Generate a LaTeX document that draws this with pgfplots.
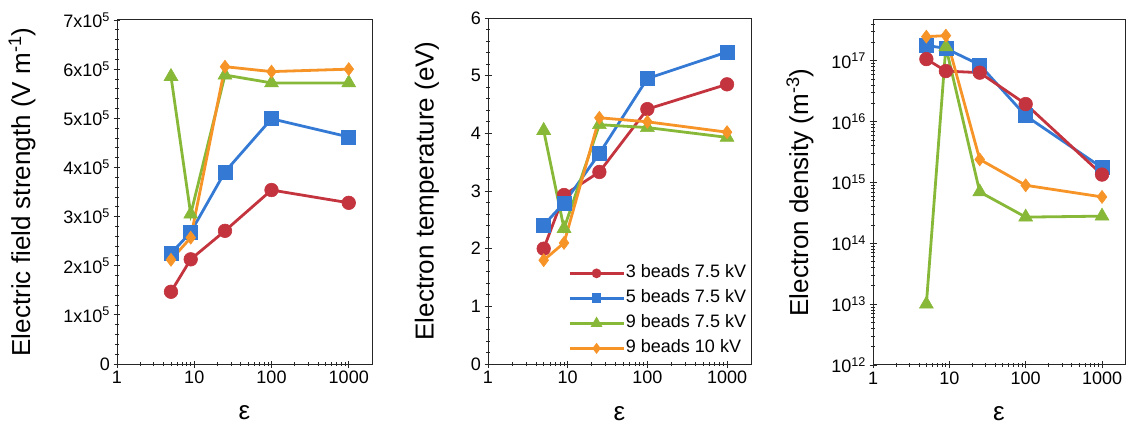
\documentclass[border=0pt]{standalone}
\usepackage{fontspec}
\setmainfont{Liberation Sans}
\usepackage{pgfplots}
\pgfplotsset{compat=1.18}
\definecolor{cred}{RGB}{196,52,62}
\definecolor{cblue}{RGB}{52,122,212}
\definecolor{cgreen}{RGB}{136,184,56}
\definecolor{corange}{RGB}{246,148,40}
\pgfplotsset{
  panelbase/.style={
    scale only axis,
    anchor=south west,
    xmin=1, xmax=2000,
    xtick={1,10,100,1000}, xticklabels={1,10,100,1000},
    minor xtick={2,3,4,5,6,7,8,9,20,30,40,50,60,70,80,90,200,300,400,500,600,700,800,900},
    xtick pos=bottom, ytick pos=left,
    tick align=center,
    major tick length=7pt, minor tick length=4pt,
    axis line style={line width=1pt, black!85},
    every tick/.append style={black!85, line width=0.8pt},
    tick label style={font=\fontsize{18}{20}\selectfont},
    label style={font=\fontsize{26}{30}\selectfont},
    xlabel={ε},
    xlabel style={at={(axis description cs:0.5,-0.142)}, anchor=center},
    scaled y ticks=false,
    clip=false,
  },
  sred/.style={cred, line width=2.8pt, mark=*, mark size=6.8pt, mark options={solid, line width=0.6pt}},
  sblue/.style={cblue, line width=2.8pt, mark=square*, mark size=7pt, mark options={solid, line width=0.6pt}},
  sgreen/.style={cgreen, line width=2.8pt, mark=triangle*, mark size=8pt, mark options={solid, line width=0.6pt}},
  sorange/.style={corange, line width=2.8pt, mark=diamond*, mark size=6.5pt, mark options={solid, line width=0.6pt}},
}
\begin{document}
\begin{tikzpicture}
\path[use as bounding box] (0,0) rectangle (1127pt,434pt);
% Panel 1
\begin{axis}[xmode=log, panelbase, at={(117pt,70pt)}, width=255pt, height=344pt,
  ymin=0, ymax=700000,
  ytick={0,100000,200000,300000,400000,500000,600000,700000},
  yticklabels={0,1x10\textsuperscript{5},2x10\textsuperscript{5},3x10\textsuperscript{5},4x10\textsuperscript{5},5x10\textsuperscript{5},6x10\textsuperscript{5},7x10\textsuperscript{5}},
  minor y tick num=4,
  ylabel={Electric field strength (V m\textsuperscript{-1})},
  ylabel style={at={(axis description cs:-0.372,0.5)}, anchor=center},
]
\addplot[sred] coordinates {(5,147000)(9,213000)(25,271000)(100,354000)(1000,328000)};
\addplot[sblue] coordinates {(5,225000)(9,268000)(25,391000)(100,499000)(1000,462000)};
\addplot[sgreen] coordinates {(5,585000)(9,305000)(25,588000)(100,572000)(1000,572000)};
\addplot[sorange] coordinates {(5,212000)(9,257000)(25,605000)(100,595000)(1000,600000)};
\end{axis}
% Panel 2
\begin{axis}[xmode=log, panelbase, at={(488pt,70pt)}, width=263pt, height=346pt,
  ymin=0, ymax=6,
  ytick={0,1,2,3,4,5,6}, yticklabels={0,1,2,3,4,5,6},
  minor y tick num=4,
  ylabel={Electron temperature (eV)},
  ylabel style={at={(axis description cs:-0.232,0.5)}, anchor=center},
  legend style={draw=none, fill=none, at={(0.304,0.29)}, anchor=north west,
    font=\fontsize{18}{20}\selectfont, row sep=6pt, inner sep=0pt,
    nodes={inner sep=1pt, text height=13pt, text depth=4pt}},
  legend cell align=left,
  legend image code/.code={\draw[mark repeat=2, mark phase=2, mark options={scale=0.5}] plot coordinates {(0pt,0pt) (27pt,0pt) (54pt,0pt)};},
]
\addplot[sred] coordinates {(5,2.0)(9,2.93)(25,3.33)(100,4.42)(1000,4.85)};
\addplot[sblue] coordinates {(5,2.41)(9,2.79)(25,3.65)(100,4.95)(1000,5.41)};
\addplot[sgreen] coordinates {(5,4.05)(9,2.35)(25,4.15)(100,4.1)(1000,3.93)};
\addplot[sorange] coordinates {(5,1.8)(9,2.1)(25,4.27)(100,4.2)(1000,4.02)};
\legend{3 beads 7.5 kV, 5 beads 7.5 kV, 9 beads 7.5 kV, 9 beads 10 kV}
\end{axis}
% Panel 3
\begin{axis}[xmode=log, ymode=log, panelbase, at={(873pt,69pt)}, width=252pt, height=345pt,
  ymin=1e12, ymax=4.7e17,
  ytick={1e12,1e13,1e14,1e15,1e16,1e17},
  yticklabels={10\textsuperscript{12},10\textsuperscript{13},10\textsuperscript{14},10\textsuperscript{15},10\textsuperscript{16},10\textsuperscript{17}},
  minor ytick={2e12,3e12,4e12,5e12,6e12,7e12,8e12,9e12,2e13,3e13,4e13,5e13,6e13,7e13,8e13,9e13,2e14,3e14,4e14,5e14,6e14,7e14,8e14,9e14,2e15,3e15,4e15,5e15,6e15,7e15,8e15,9e15,2e16,3e16,4e16,5e16,6e16,7e16,8e16,9e16,2e17,3e17,4e17},
  ylabel={Electron density (m\textsuperscript{-3})},
  ylabel style={at={(axis description cs:-0.29,0.5)}, anchor=center},
]
\addplot[sblue] coordinates {(5,1.8e17)(9,1.6e17)(25,8.6e16)(100,1.25e16)(1000,1.75e15)};
\addplot[sred] coordinates {(5,1.07e17)(9,6.8e16)(25,6.4e16)(100,1.95e16)(1000,1.35e15)};
\addplot[sgreen] coordinates {(5,1.0e13)(9,1.7e17)(25,7.0e14)(100,2.7e14)(1000,2.8e14)};
\addplot[sorange] coordinates {(5,2.5e17)(9,2.6e17)(25,2.4e15)(100,9.0e14)(1000,5.8e14)};
\end{axis}
\end{tikzpicture}
\end{document}
